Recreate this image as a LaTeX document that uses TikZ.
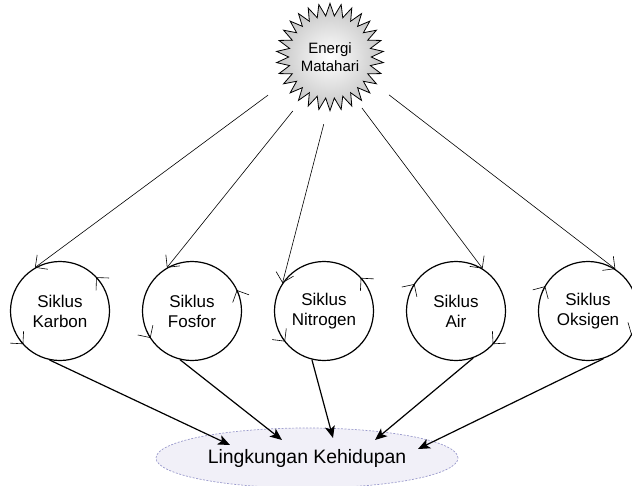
\documentclass[tikz,border=0pt]{standalone}
\usepackage{fontspec}
\setmainfont{Liberation Sans}
\usetikzlibrary{positioning,shapes.geometric,arrows.meta}
\definecolor{lembayung}{HTML}{F1F0F8}
\definecolor{garisungu}{HTML}{9A9ACC}

\begin{document}
\begin{tikzpicture}[x=1pt, y=1pt, node distance=132pt,
    siklus/.style={draw, circle, line width=1.2pt, minimum size=99pt, inner sep=0pt, align=center, font=\fontsize{17}{20}\selectfont},
    sinar/.style={line width=0.6pt, -{Straight Barb[length=9pt]}, shorten <=18pt},
    putar/.style={line width=0.6pt, -{Straight Barb[length=9pt]}},
    alir/.style={line width=1.2pt, -{Stealth[length=12pt, width=10pt, inset=3pt]}}]
    \useasboundingbox (0,0) rectangle (632,-485);

    \node[star, star points=30, star point ratio=1.3, minimum size=92pt, inner sep=0pt, draw, line width=0.8pt, shading=radial, inner color=white, outer color=gray!45, align=center, font=\fontsize{15}{18.5}\selectfont] (matahari) at (330,-57) {Energi\\Matahari};

    \node[siklus] (karbon) at (60,-311) {Siklus\\Karbon};
    \node[siklus, right of=karbon] (fosfor) {Siklus\\Fosfor};
    \node[siklus, right of=fosfor] (nitrogen) {Siklus\\Nitrogen};
    \node[siklus, right of=nitrogen] (air) {Siklus\\Air};
    \node[siklus, right of=air] (oksigen) {Siklus\\Oksigen};

    \node[ellipse, draw=garisungu, dash pattern=on 2pt off 1.5pt, line width=0.7pt, fill=lembayung, minimum width=302pt, minimum height=60pt, inner sep=0pt, font=\fontsize{19.4}{22}\selectfont] (lingkungan) at (307,-458) {Lingkungan Kehidupan};

    \draw[sinar] (matahari.210) -- (karbon.120);
    \draw[sinar] (matahari.237) -- (fosfor.120);
    \draw[sinar] (matahari.268) -- (nitrogen.146);
    \draw[sinar] (matahari.300) -- (air.58);
    \draw[sinar] (matahari.329) -- (oksigen.57);

    \foreach \n/\a/\b in {karbon/35/43, karbon/214/222, fosfor/17/25, fosfor/205/213, nitrogen/34/42, nitrogen/210/218, air/155/147, air/326/318, oksigen/158/150, oksigen/339/331}
      \draw[putar] (\n.center) ++(\a:49.5) arc[start angle=\a, end angle=\b, radius=49.5];

    \path (lingkungan.center) ++(-77,13) coordinate (ujungkarbon);
    \path (lingkungan.center) ++(-25,18) coordinate (ujungfosfor);
    \path (lingkungan.center) ++(26,20) coordinate (ujungnitrogen);
    \path (lingkungan.center) ++(68,18) coordinate (ujungair);
    \path (lingkungan.center) ++(111,9) coordinate (ujungoksigen);

    \draw[alir] (karbon.258) -- (ujungkarbon);
    \draw[alir] (fosfor.256) -- (ujungfosfor);
    \draw[alir] (nitrogen.256) -- (ujungnitrogen);
    \draw[alir] (air.290) -- (ujungair);
    \draw[alir] (oksigen.288) -- (ujungoksigen);
\end{tikzpicture}
\end{document}
